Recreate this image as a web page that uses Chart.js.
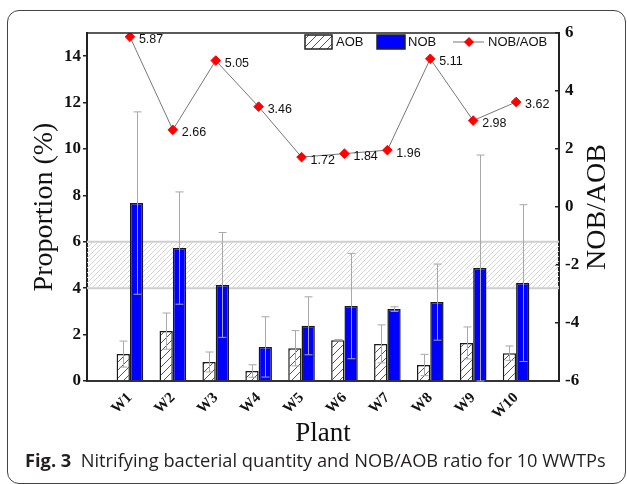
<!DOCTYPE html>
<html>
<head>
<meta charset="utf-8">
<script src="https://cdn.jsdelivr.net/npm/chart.js@4.4.0/dist/chart.umd.min.js"></script>
<style>
html,body{margin:0;padding:0;background:#fff;}
#wrap{position:relative;width:627px;height:484px;overflow:hidden;background:#fff;}
#frame{position:absolute;left:7px;top:10px;width:619px;height:474px;border:1.4px solid #444;border-radius:12px;box-sizing:border-box;}
#c{position:absolute;left:0;top:0;}
#cap{position:absolute;left:25px;top:452px;font-family:"Open Sans","Noto Sans",sans-serif;white-space:nowrap;color:#231f20;line-height:1;font-size:17px;}
#cap b{font-weight:700;}
</style>
</head>
<body>
<div id="wrap">
  <div id="frame"></div>
  <canvas id="c" width="627" height="484"></canvas>
  <div id="cap"><b>Fig. 3</b>&nbsp;&nbsp;Nitrifying bacterial quantity and NOB/AOB ratio for 10 WWTPs</div>
</div>
<script>
// ---- data ----
const categories = ['W1','W2','W3','W4','W5','W6','W7','W8','W9','W10'];
const aob    = [1.16, 2.15, 0.82, 0.43, 1.41, 1.76, 1.60, 0.69, 1.64, 1.20];
const aobErr = [0.56, 0.78, 0.43, 0.27, 0.76, 0.03, 0.82, 0.46, 0.69, 0.31];
const nob    = [7.67, 5.73, 4.14, 1.47, 2.38, 3.23, 3.10, 3.40, 4.87, 4.22];
const nobErr = [3.93, 2.42, 2.26, 1.30, 1.25, 2.27, 0.10, 1.64, 4.87, 3.38];
const ratio  = [5.87, 2.66, 5.05, 3.46, 1.72, 1.84, 1.96, 5.11, 2.98, 3.62];
const leftTicks = [0, 2, 4, 6, 8, 10, 12, 14];
const rightTicks = [-6, -4, -2, 0, 2, 4, 6];
const band = [4, 6];

// caption fit
(function(){
  const cap = document.getElementById('cap');
  let s = 17;
  cap.style.fontSize = s + 'px';
  const w = cap.getBoundingClientRect().width;
  s = s * 581 / w;
  cap.style.fontSize = s.toFixed(2) + 'px';
  cap.style.top = (467 - 0.888 * s).toFixed(1) + 'px';
})();

const SERIF = '"Liberation Serif","Times New Roman",serif';
const SANS = '"Liberation Sans",Arial,sans-serif';

const canvas = document.getElementById('c');
const mainCtx = canvas.getContext('2d');
function hatch(size, color, bg, lw) {
  const c = document.createElement('canvas');
  c.width = size; c.height = size;
  const x = c.getContext('2d');
  if (bg) { x.fillStyle = bg; x.fillRect(0, 0, size, size); }
  x.strokeStyle = color; x.lineWidth = lw;
  x.beginPath();
  x.moveTo(0, size); x.lineTo(size, 0);
  x.moveTo(-1, 1); x.lineTo(1, -1);
  x.moveTo(size - 1, size + 1); x.lineTo(size + 1, size - 1);
  x.stroke();
  return mainCtx.createPattern(c, 'repeat');
}
const aobPattern = hatch(8, '#555', '#fff', 1);
const bandPattern = hatch(5, '#d6d6d6', null, 1);

const labels = [''].concat(categories, ['']);
const pad = arr => [null].concat(arr, [null]);

const bandPlugin = {
  id: 'band',
  beforeDatasetsDraw(chart) {
    const {ctx, chartArea: a, scales: {y}} = chart;
    const y1 = y.getPixelForValue(band[1]), y0 = y.getPixelForValue(band[0]);
    ctx.save();
    ctx.fillStyle = bandPattern;
    ctx.fillRect(a.left, y1, a.right - a.left, y0 - y1);
    ctx.strokeStyle = '#cfcfcf'; ctx.lineWidth = 2;
    ctx.beginPath();
    ctx.moveTo(a.left, y1); ctx.lineTo(a.right, y1);
    ctx.moveTo(a.left, y0); ctx.lineTo(a.right, y0);
    ctx.stroke();
    ctx.restore();
  }
};

const errPlugin = {
  id: 'errbars',
  afterDatasetsDraw(chart) {
    const {ctx, scales: {y}} = chart;
    const errs = [aobErr, nobErr];
    ctx.save();
    ctx.strokeStyle = '#a8a8a8'; ctx.lineWidth = 1;
    [0, 1].forEach(di => {
      const meta = chart.getDatasetMeta(di);
      const vals = chart.data.datasets[di].data;
      meta.data.forEach((el, i) => {
        if (vals[i] == null) return;
        const e = errs[di][i - 1];
        const x = Math.round(el.x) + 0.5;
        const yt = y.getPixelForValue(vals[i] + e);
        const yb = y.getPixelForValue(vals[i] - e);
        ctx.beginPath();
        ctx.moveTo(x, yt); ctx.lineTo(x, yb);
        ctx.moveTo(x - 4, yt); ctx.lineTo(x + 4, yt);
        ctx.moveTo(x - 4, yb); ctx.lineTo(x + 4, yb);
        ctx.stroke();
      });
    });
    ctx.restore();
  }
};

const labelPlugin = {
  id: 'ptlabels',
  afterDatasetsDraw(chart) {
    const {ctx} = chart;
    const meta = chart.getDatasetMeta(2);
    const vals = chart.data.datasets[2].data;
    ctx.save();
    ctx.font = '12.5px ' + SANS;
    ctx.fillStyle = '#111';
    ctx.textAlign = 'left'; ctx.textBaseline = 'middle';
    meta.data.forEach((el, i) => {
      if (vals[i] == null) return;
      ctx.fillText(vals[i].toFixed(2), el.x + 9, el.y + 3);
    });
    ctx.restore();
  }
};

const decoPlugin = {
  id: 'deco',
  afterDraw(chart) {
    const {ctx, chartArea: a} = chart;
    ctx.save();
    // top frame line
    ctx.strokeStyle = '#222'; ctx.lineWidth = 1.5;
    ctx.beginPath(); ctx.moveTo(a.left, a.top); ctx.lineTo(a.right, a.top); ctx.stroke();
    // right title, reading bottom-to-top
    ctx.font = '28px ' + SERIF;
    ctx.fillStyle = '#111';
    ctx.textAlign = 'center'; ctx.textBaseline = 'middle';
    ctx.translate(598, (a.top + a.bottom) / 2);
    ctx.rotate(-Math.PI / 2);
    ctx.fillText('NOB/AOB', 0, 0);
    ctx.restore();

    // legend
    const R = a.right;
    const ly = a.top + 9;
    ctx.save();
    ctx.font = '13px ' + SANS;
    ctx.fillStyle = '#111';
    ctx.textAlign = 'left'; ctx.textBaseline = 'middle';
    ctx.lineWidth = 1.5; ctx.strokeStyle = '#222';
    // AOB
    ctx.fillStyle = aobPattern;
    ctx.fillRect(R - 254, ly - 7, 27, 14);
    ctx.strokeRect(R - 254, ly - 7, 27, 14);
    ctx.fillStyle = '#111';
    ctx.fillText('AOB', R - 223, ly);
    // NOB
    ctx.fillStyle = '#0000ff';
    ctx.fillRect(R - 182, ly - 7, 28, 14);
    ctx.strokeRect(R - 182, ly - 7, 28, 14);
    ctx.fillStyle = '#111';
    ctx.fillText('NOB', R - 151, ly);
    // NOB/AOB
    ctx.strokeStyle = '#777'; ctx.lineWidth = 1;
    ctx.beginPath(); ctx.moveTo(R - 106, ly); ctx.lineTo(R - 75, ly); ctx.stroke();
    const cx = R - 90, r = 5;
    ctx.fillStyle = '#ff0000';
    ctx.beginPath();
    ctx.moveTo(cx - r, ly); ctx.lineTo(cx, ly - r); ctx.lineTo(cx + r, ly); ctx.lineTo(cx, ly + r);
    ctx.closePath(); ctx.fill();
    ctx.fillStyle = '#111';
    ctx.fillText('NOB/AOB', R - 71, ly);
    ctx.restore();
  }
};

new Chart(canvas, {
  data: {
    labels: labels,
    datasets: [
      { type: 'bar', label: 'AOB', data: pad(aob), yAxisID: 'y', backgroundColor: aobPattern,
        borderColor: '#1a1a1a', borderWidth: 1.5, order: 2,
        categoryPercentage: 0.62, barPercentage: 1.0 },
      { type: 'bar', label: 'NOB', data: pad(nob), yAxisID: 'y', backgroundColor: '#0000ff',
        borderColor: '#1a1a1a', borderWidth: 1.5, order: 2,
        categoryPercentage: 0.62, barPercentage: 1.0 },
      { type: 'line', label: 'NOB/AOB', data: pad(ratio), yAxisID: 'y2', order: 0,
        borderColor: '#777', borderWidth: 1, pointStyle: 'rectRot', pointRadius: 4.8,
        pointBackgroundColor: '#ff0000', pointBorderColor: '#ff0000', pointBorderWidth: 1,
        spanGaps: false, tension: 0 }
    ]
  },
  options: {
    responsive: false,
    animation: false,
    devicePixelRatio: 1,
    layout: { padding: { top: 33, left: 0, right: 0, bottom: 0 } },
    plugins: { legend: { display: false }, tooltip: { enabled: false }, title: { display: false } },
    scales: {
      x: {
        type: 'category', offset: false,
        grid: { display: false, drawOnChartArea: false, drawTicks: false },
        border: { display: true, color: '#333', width: 2 },
        ticks: { autoSkip: false, maxRotation: 45, minRotation: 45, padding: 8,
                 color: '#111', font: { family: SERIF, size: 15, weight: 'bold' } },
        title: { display: true, text: 'Plant', color: '#111', font: { family: SERIF, size: 27 },
                 padding: { top: 0, bottom: 34 } },
        afterFit: s => { s.height = 103; }
      },
      y: {
        type: 'linear', position: 'left', min: 0, max: 15,
        afterBuildTicks: s => { s.ticks = leftTicks.map(v => ({ value: v })); },
        grid: { display: true, drawOnChartArea: false, drawTicks: true, tickLength: 4, color: '#222', lineWidth: 1.5 },
        border: { display: true, color: '#222', width: 2 },
        ticks: { padding: 2, color: '#111', font: { family: SERIF, size: 17, weight: 'bold' } },
        title: { display: true, text: 'Proportion (%)', color: '#111', font: { family: SERIF, size: 28 },
                 padding: { top: 28, bottom: 0 } },
        afterFit: s => { s.width = 87; }
      },
      y2: {
        type: 'linear', position: 'right', min: -6, max: 6,
        afterBuildTicks: s => { s.ticks = rightTicks.map(v => ({ value: v })); },
        grid: { display: true, drawOnChartArea: false, drawTicks: true, tickLength: -4, color: '#222', lineWidth: 1.5 },
        border: { display: true, color: '#222', width: 2 },
        ticks: { padding: 10, color: '#111', font: { family: SERIF, size: 17, weight: 'bold' } },
        afterFit: s => { s.width = 68; }
      }
    }
  },
  plugins: [bandPlugin, errPlugin, labelPlugin, decoPlugin]
});
</script>
</body>
</html>
